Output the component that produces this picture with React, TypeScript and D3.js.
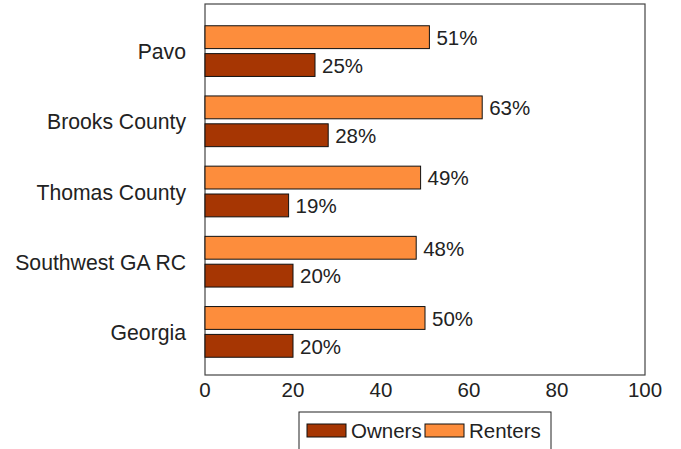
import React, { useEffect, useRef } from 'react'
import * as d3 from 'd3'

const categories = ['Pavo', 'Brooks County', 'Thomas County', 'Southwest GA RC', 'Georgia']
const owners = [25, 28, 19, 20, 20]
const renters = [51, 63, 49, 48, 50]
const xTicks = [0, 20, 40, 60, 80, 100]

const OWN = '#a63603'
const RENT = '#fd8d3c'
const FONT = '"Liberation Sans", Arial, sans-serif'

export default function App() {
  const ref = useRef<SVGSVGElement>(null)

  useEffect(() => {
    const svg = d3.select(ref.current)
    svg.selectAll('*').remove()

    const left = 205, right = 645, top = 4, bottom = 375

    const x = d3.scaleLinear().domain([0, 100]).range([left, right])
    const y = d3.scaleBand().domain(categories).range([16, 367]).padding(0)
    const sub = d3.scaleBand().domain(['Renters', 'Owners']).range([0, y.bandwidth()])
      .paddingInner(0.18).paddingOuter(0.35)

    // frame
    svg.append('rect')
      .attr('x', left).attr('y', top)
      .attr('width', right - left).attr('height', bottom - top)
      .attr('fill', 'none').attr('stroke', '#444').attr('stroke-width', 1.2)

    const rows = categories.map((c, i) => ({ c, own: owners[i], rent: renters[i] }))

    const g = svg.selectAll('g.row').data(rows).enter().append('g')
      .attr('class', 'row')
      .attr('transform', d => `translate(0,${y(d.c)})`)

    const series: [string, string, (d: any) => number][] = [
      ['Renters', RENT, d => d.rent],
      ['Owners', OWN, d => d.own],
    ]
    series.forEach(([key, col, val]) => {
      g.append('rect')
        .attr('x', x(0))
        .attr('y', sub(key)!)
        .attr('width', d => x(val(d)) - x(0))
        .attr('height', sub.bandwidth())
        .attr('fill', col)
        .attr('stroke', '#111').attr('stroke-width', 1)
      g.append('text')
        .attr('x', d => x(val(d)) + 7)
        .attr('y', sub(key)! + sub.bandwidth() / 2)
        .attr('dy', '0.38em')
        .attr('font-family', FONT).attr('font-size', 20.5)
        .attr('fill', '#222')
        .text(d => val(d) + '%')
    })

    // category labels
    svg.selectAll('text.cat').data(categories).enter().append('text')
      .attr('class', 'cat')
      .attr('x', left - 19)
      .attr('y', d => y(d)! + y.bandwidth() / 2)
      .attr('dy', '0.38em')
      .attr('text-anchor', 'end')
      .attr('font-family', FONT).attr('font-size', 21.2)
      .attr('fill', '#222')
      .text(d => d)

    // x tick labels
    svg.selectAll('text.tick').data(xTicks).enter().append('text')
      .attr('class', 'tick')
      .attr('x', d => x(d))
      .attr('y', 397)
      .attr('text-anchor', 'middle')
      .attr('font-family', FONT).attr('font-size', 20.5)
      .attr('fill', '#222')
      .text(d => d)

    // legend
    const lg = svg.append('g')
    lg.append('rect')
      .attr('x', 299).attr('y', 412).attr('width', 252).attr('height', 50)
      .attr('fill', 'white').attr('stroke', '#222').attr('stroke-width', 1)
    const items: [string, string, number][] = [['Owners', OWN, 307], ['Renters', RENT, 425]]
    items.forEach(([name, col, lx]) => {
      lg.append('rect')
        .attr('x', lx).attr('y', 424).attr('width', 39).attr('height', 13)
        .attr('fill', col).attr('stroke', '#111').attr('stroke-width', 1)
      lg.append('text')
        .attr('x', lx + 44).attr('y', 438)
        .attr('font-family', FONT).attr('font-size', 20.5)
        .attr('fill', '#222')
        .text(name)
    })
  }, [])

  return (
    <svg ref={ref} width={681} height={449}
      style={{ position: 'absolute', left: 0, top: 0, background: 'white' }} />
  )
}
